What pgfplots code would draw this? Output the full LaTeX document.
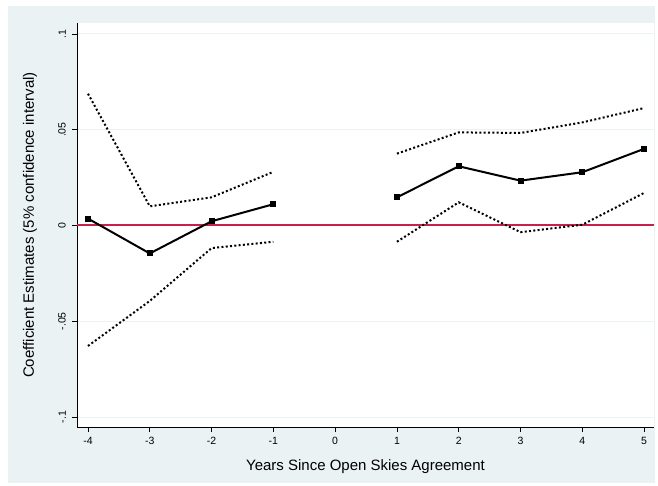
\documentclass[border=0pt]{standalone}
\usepackage{pgfplots}
\pgfplotsset{compat=1.18}
\usepackage{fontspec}
\setmainfont{Liberation Sans}
\definecolor{bgc}{RGB}{234,242,243}
\definecolor{refred}{RGB}{200,32,74}
\begin{document}
\begin{tikzpicture}[x=1pt,y=1pt]
\fill[white] (0,0) rectangle (658,485);
\fill[bgc] (8,2) rectangle (655,479);
\begin{axis}[at={(77pt,58pt)}, anchor=south west, scale only axis,
  width=577pt, height=404pt,
  xmin=-4.178, xmax=5.16, ymin=-0.1052, ymax=0.1057,
  axis lines*=left, axis line style={black, line width=1pt, -},
  axis background/.style={fill=white},
  xtick={-4,-3,-2,-1,0,1,2,3,4,5},
  xticklabels={-4,-3,-2,-1,0,1,2,3,4,5},
  ytick={-0.1,-0.05,0,0.05,0.1},
  yticklabels={-.1,-.05,0,.05,.1},
  yticklabel style={rotate=90, anchor=south, inner sep=6pt, font=\fontsize{10.5}{12}\selectfont},
  xticklabel style={font=\fontsize{10.5}{12}\selectfont, inner sep=5pt},
  tick align=outside, major tick length=5pt,
  tick style={black, line width=0.8pt},
  ymajorgrids, grid style={bgc, line width=1pt},
  xlabel={Years Since Open Skies Agreement},
  ylabel={Coefficient Estimates (5\% confidence interval)},
  label style={font=\fontsize{15}{18}\selectfont},
  xlabel style={at={(axis description cs:0.5,-0.099)}, anchor=center},
  ylabel style={at={(axis description cs:-0.0815,0.5)}, anchor=center},
  unbounded coords=jump,
]
\addplot[draw=refred, line width=2pt, forget plot] coordinates {(-4.178,0) (5.16,0)};
\addplot[black, line width=2pt, dash pattern=on 2pt off 2.3pt] coordinates {
(-4,0.0688) (-3,0.0100) (-2,0.0147) (-1,0.0280) (0,nan) (1,0.0375) (2,0.0486) (3,0.0483) (4,0.0538) (5,0.0613)};
\addplot[black, line width=2pt, dash pattern=on 2pt off 2.3pt] coordinates {
(-4,-0.0629) (-3,-0.0394) (-2,-0.0118) (-1,-0.0085) (0,nan) (1,-0.0085) (2,0.0121) (3,-0.0035) (4,0.0004) (5,0.0170)};
\addplot[black, line width=2pt, mark=square*, mark size=2pt, mark options={solid}] coordinates {
(-4,0.0036) (-3,-0.0146) (-2,0.0022) (-1,0.0111) (0,nan) (1,0.0147) (2,0.0309) (3,0.0234) (4,0.0278) (5,0.0400)};
\end{axis}
\end{tikzpicture}
\end{document}
